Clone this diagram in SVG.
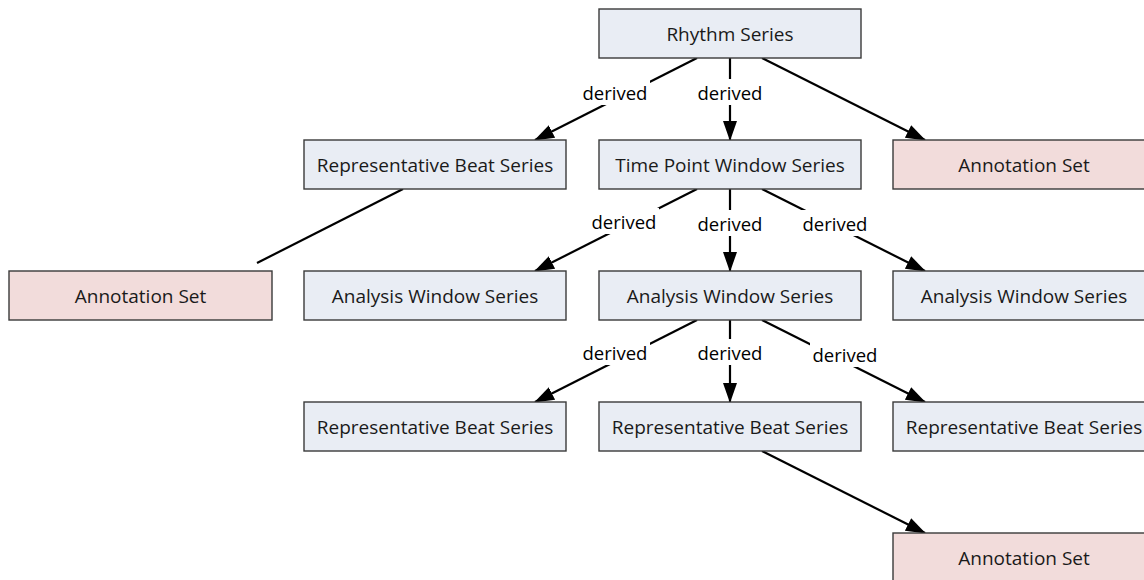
<svg xmlns="http://www.w3.org/2000/svg" width="1144" height="580" viewBox="0 0 1144 580">
  <style>
    .node rect { stroke: #3a3a3a; stroke-width: 1.4; }
    .series rect { fill: #e9edf4; }
    .annot rect { fill: #f2dcdb; }
    .node text { font-family: "Open Sans", "Liberation Sans", sans-serif; font-size: 19px; fill: #1a1a1a; text-anchor: middle; dominant-baseline: central; }
    .edge { stroke: #000; stroke-width: 2.2; fill: none; }
    .arrow { marker-end: url(#head); }
    .lbl rect { fill: #fff; }
    .lbl text { font-family: "Open Sans", "Liberation Sans", sans-serif; font-size: 18.5px; fill: #000; text-anchor: middle; dominant-baseline: central; }
  </style>
  <defs>
    <marker id="head" markerUnits="userSpaceOnUse" markerWidth="20" markerHeight="16" refX="19" refY="7" orient="auto" viewBox="0 0 20 14">
      <path d="M0,0 L20,7 L0,14 z" fill="#000"/>
    </marker>
  </defs>
  <rect width="1144" height="580" fill="#fff"/>

  <g id="connectors">
    <line class="edge arrow" x1="697" y1="58" x2="535" y2="140"/>
    <line class="edge arrow" x1="730" y1="58" x2="730" y2="140"/>
    <line class="edge arrow" x1="762" y1="58" x2="925" y2="140"/>
    <line class="edge" x1="403" y1="189" x2="257" y2="263"/>
    <line class="edge arrow" x1="697" y1="189" x2="535" y2="271"/>
    <line class="edge arrow" x1="730" y1="189" x2="730" y2="271"/>
    <line class="edge arrow" x1="762" y1="189" x2="925" y2="271"/>
    <line class="edge arrow" x1="697" y1="320" x2="535" y2="402"/>
    <line class="edge arrow" x1="730" y1="320" x2="730" y2="402"/>
    <line class="edge arrow" x1="762" y1="320" x2="925" y2="402"/>
    <line class="edge arrow" x1="762" y1="451" x2="925" y2="533"/>
    <g class="lbl">
      <rect x="580" y="79" width="70" height="26"/><text x="615" y="92">derived</text>
      <rect x="695" y="79" width="70" height="26"/><text x="730" y="92">derived</text>
      <rect x="589" y="208" width="70" height="26"/><text x="624" y="221">derived</text>
      <rect x="695" y="210" width="70" height="26"/><text x="730" y="223">derived</text>
      <rect x="800" y="210" width="70" height="26"/><text x="835" y="223">derived</text>
      <rect x="580" y="339" width="70" height="26"/><text x="615" y="352">derived</text>
      <rect x="695" y="339" width="70" height="26"/><text x="730" y="352">derived</text>
      <rect x="810" y="341" width="70" height="26"/><text x="845" y="354">derived</text>
    </g>
  </g>

  <g id="rhythm-series" class="node series"><rect x="599" y="9" width="262" height="49"/><text x="730" y="33.5">Rhythm Series</text></g>

  <g id="rep-beat-1" class="node series"><rect x="304" y="140" width="262" height="49"/><text x="435" y="164.5">Representative Beat Series</text></g>
  <g id="time-point-window" class="node series"><rect x="599" y="140" width="262" height="49"/><text x="730" y="164.5">Time Point Window Series</text></g>
  <g id="annotation-1" class="node annot"><rect x="893" y="140" width="262" height="49"/><text x="1024" y="164.5">Annotation Set</text></g>

  <g id="annotation-2" class="node annot"><rect x="9" y="271" width="263" height="49"/><text x="140.5" y="295.5">Annotation Set</text></g>
  <g id="analysis-window-1" class="node series"><rect x="304" y="271" width="262" height="49"/><text x="435" y="295.5">Analysis Window Series</text></g>
  <g id="analysis-window-2" class="node series"><rect x="599" y="271" width="262" height="49"/><text x="730" y="295.5">Analysis Window Series</text></g>
  <g id="analysis-window-3" class="node series"><rect x="893" y="271" width="262" height="49"/><text x="1024" y="295.5">Analysis Window Series</text></g>

  <g id="rep-beat-2" class="node series"><rect x="304" y="402" width="262" height="49"/><text x="435" y="426.5">Representative Beat Series</text></g>
  <g id="rep-beat-3" class="node series"><rect x="599" y="402" width="262" height="49"/><text x="730" y="426.5">Representative Beat Series</text></g>
  <g id="rep-beat-4" class="node series"><rect x="893" y="402" width="262" height="49"/><text x="1024" y="426.5">Representative Beat Series</text></g>

  <g id="annotation-3" class="node annot"><rect x="893" y="533" width="262" height="49"/><text x="1024" y="557.5">Annotation Set</text></g>
</svg>
